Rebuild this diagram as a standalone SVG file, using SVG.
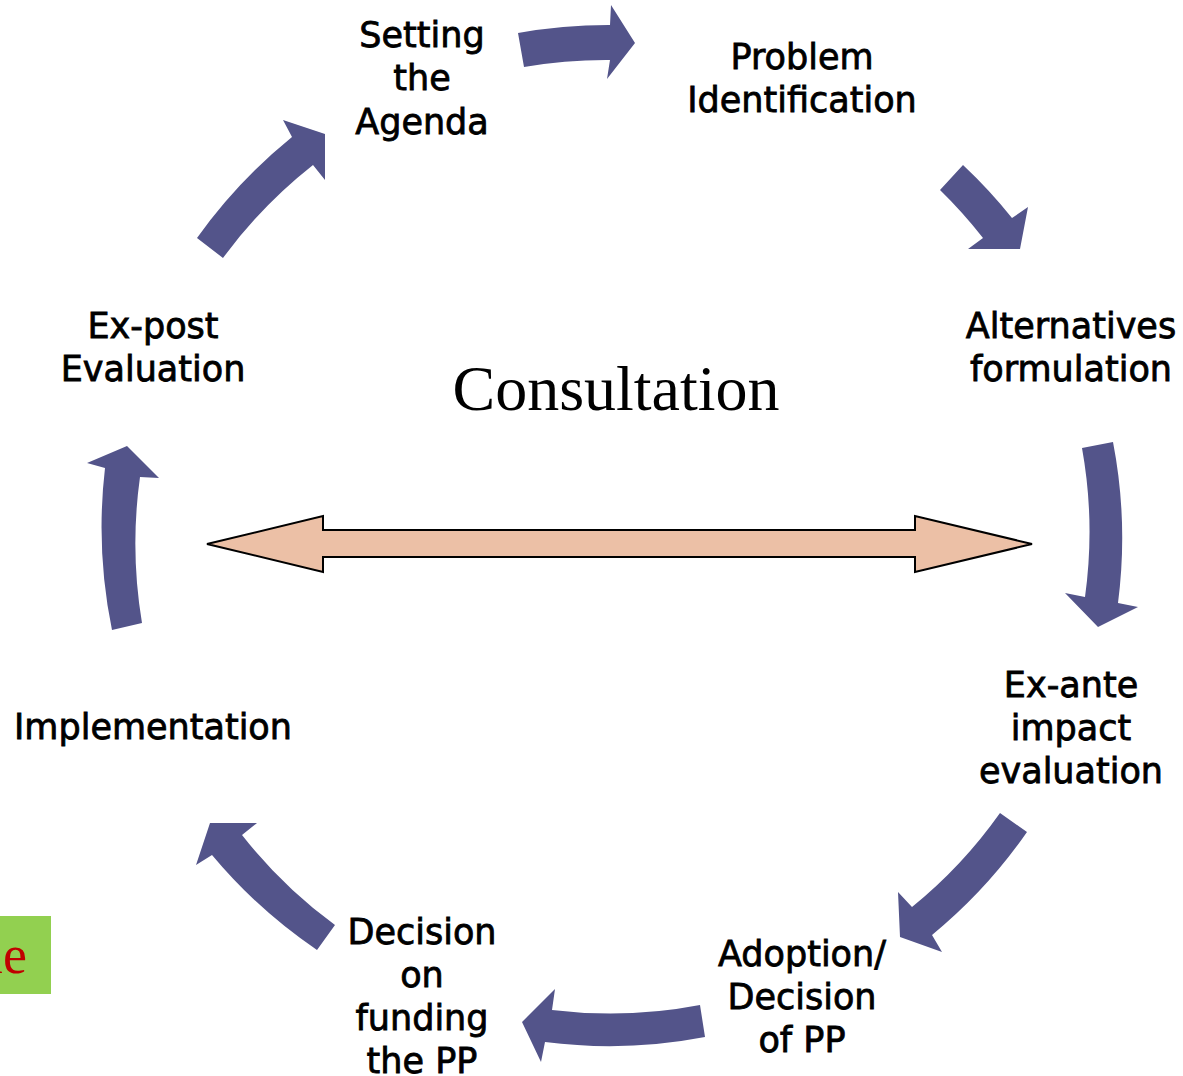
<svg xmlns="http://www.w3.org/2000/svg" width="1183" height="1076" viewBox="0 0 1183 1076">
<style>
.lbl{font-family:"DejaVu Sans","Verdana",sans-serif;font-size:35px;fill:#000;stroke:#000;stroke-width:0.8px;text-anchor:middle}
.cyc{fill:#53548A;stroke:none}
</style>
<rect x="0" y="0" width="1183" height="1076" fill="#fff"/>
<g id="side-box">
<rect x="0" y="916" width="51" height="78" fill="#92D050"/>
<text x="27" y="973" font-family="Liberation Serif,serif" font-size="54" fill="#C00000" text-anchor="end">le</text>
</g>
<g id="connectors">
<path class="cyc" d="M518,33 A515,515 0 0 1 610,25 L611,5 L635,43 L607,79 L610,60 A481,481 0 0 0 524,67 Z"/>
<path class="cyc" d="M963,165 A511,511 0 0 1 1012,218 L1028,207 L1020,249 L968,249 L983,238 A476,476 0 0 0 940,190 Z"/>
<path class="cyc" d="M1113,442 A506,506 0 0 1 1118,603 L1138,607 L1098,627 L1065,593 L1085,597 A473,473 0 0 0 1082,448 Z"/>
<path class="cyc" d="M1027,832 A505,505 0 0 1 932,935 L942,952 L900,937 L898,892 L912,907 A471,471 0 0 0 1000,813 Z"/>
<path class="cyc" d="M705,1037 A505,505 0 0 1 545,1042 L541,1062 L522,1022 L555,989 L552,1010 A474,474 0 0 0 700,1005 Z"/>
<path class="cyc" d="M317,950 A508,508 0 0 1 212,855 L196,865 L210,823 L257,823 L242,835 A477,477 0 0 0 335,925 Z"/>
<path class="cyc" d="M112,630 A512,512 0 0 1 105,468 L87,463 L127,446 L159,478 L140,477 A481,481 0 0 0 142,623 Z"/>
<path class="cyc" d="M197,238 A516,516 0 0 1 292,137 L283,120 L325,134 L325,180 L313,165 A482,482 0 0 0 223,258 Z"/>
</g>
<g id="consultation-arrow">
<path d="M207,544 L323,516 L323,530 L915,530 L915,516 L1032,544 L915,572 L915,557 L323,557 L323,572 Z" fill="#ECC0A6" stroke="#000" stroke-width="2" stroke-linejoin="miter"/>
</g>
<g id="consultation">
<text x="616" y="410" font-family="Liberation Serif,serif" font-size="64" text-anchor="middle" fill="#000">Consultation</text>
</g>
<g id="setting-agenda">
<text class="lbl" x="422" y="47">Setting</text>
<text class="lbl" x="422" y="90">the</text>
<text class="lbl" x="422" y="134">Agenda</text>
</g>
<g id="problem-identification">
<text class="lbl" x="802" y="69">Problem</text>
<text class="lbl" x="802" y="112">Identification</text>
</g>
<g id="alternatives-formulation">
<text class="lbl" x="1071" y="338">Alternatives</text>
<text class="lbl" x="1071" y="381">formulation</text>
</g>
<g id="ex-ante">
<text class="lbl" x="1071" y="697">Ex-ante</text>
<text class="lbl" x="1071" y="740">impact</text>
<text class="lbl" x="1071" y="783">evaluation</text>
</g>
<g id="adoption">
<text class="lbl" x="802" y="966">Adoption/</text>
<text class="lbl" x="802" y="1009">Decision</text>
<text class="lbl" x="802" y="1052">of PP</text>
</g>
<g id="decision-funding">
<text class="lbl" x="422" y="944">Decision</text>
<text class="lbl" x="422" y="987">on</text>
<text class="lbl" x="422" y="1030">funding</text>
<text class="lbl" x="422" y="1073">the PP</text>
</g>
<g id="implementation">
<text class="lbl" x="153" y="739">Implementation</text>
</g>
<g id="ex-post">
<text class="lbl" x="153" y="338">Ex-post</text>
<text class="lbl" x="153" y="381">Evaluation</text>
</g>
</svg>
